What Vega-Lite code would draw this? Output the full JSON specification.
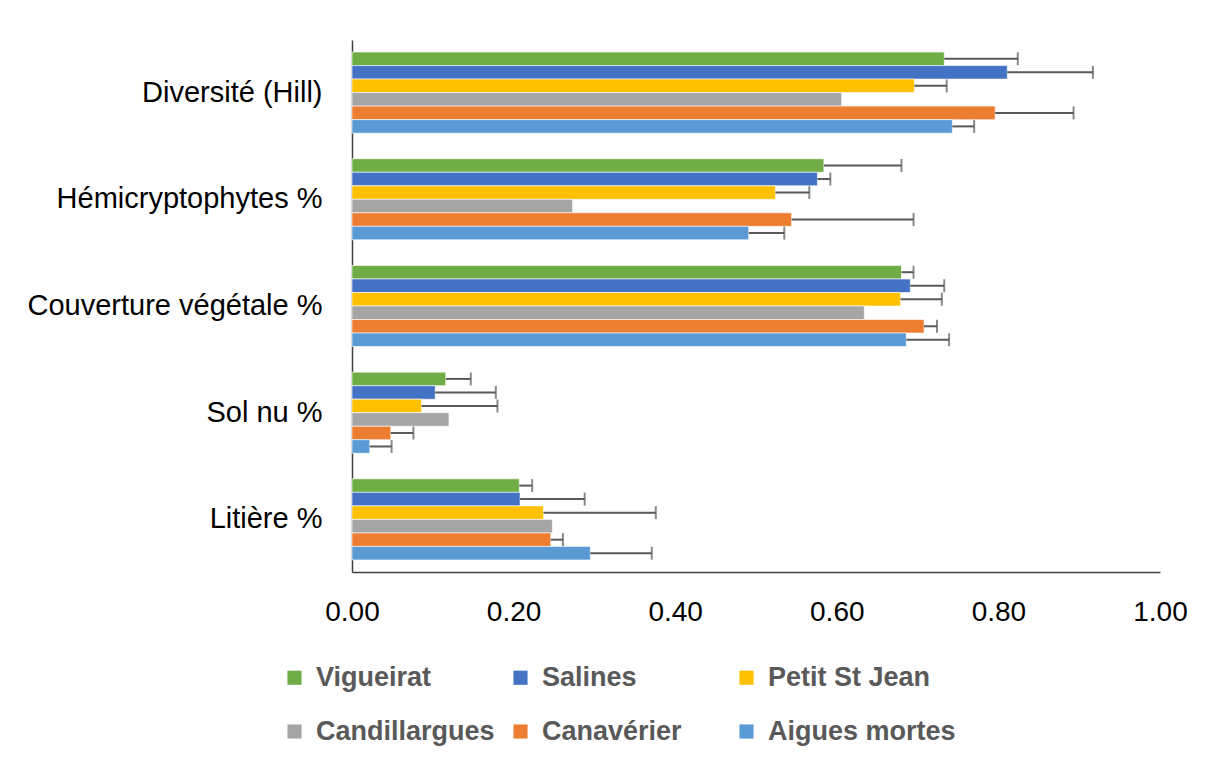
{
  "$schema": "https://vega.github.io/schema/vega-lite/v6.json",
  "width": 808,
  "height": 532,
  "autosize": {"type": "none"},
  "padding": {"left": 352, "top": 40, "right": 49, "bottom": 192},
  "background": "white",
  "config": {"view": {"stroke": null}, "font": "Liberation Sans"},
  "data": {"values": [
    {"cat": "Diversité (Hill)", "site": "Vigueirat", "value": 0.733, "upper": 0.824},
    {"cat": "Diversité (Hill)", "site": "Salines", "value": 0.811, "upper": 0.917},
    {"cat": "Diversité (Hill)", "site": "Petit St Jean", "value": 0.696, "upper": 0.736},
    {"cat": "Diversité (Hill)", "site": "Candillargues", "value": 0.606, "upper": null},
    {"cat": "Diversité (Hill)", "site": "Canavérier", "value": 0.796, "upper": 0.893},
    {"cat": "Diversité (Hill)", "site": "Aigues mortes", "value": 0.743, "upper": 0.770},
    {"cat": "Hémicryptophytes %", "site": "Vigueirat", "value": 0.584, "upper": 0.680},
    {"cat": "Hémicryptophytes %", "site": "Salines", "value": 0.576, "upper": 0.592},
    {"cat": "Hémicryptophytes %", "site": "Petit St Jean", "value": 0.524, "upper": 0.566},
    {"cat": "Hémicryptophytes %", "site": "Candillargues", "value": 0.273, "upper": null},
    {"cat": "Hémicryptophytes %", "site": "Canavérier", "value": 0.544, "upper": 0.695},
    {"cat": "Hémicryptophytes %", "site": "Aigues mortes", "value": 0.491, "upper": 0.535},
    {"cat": "Couverture végétale %", "site": "Vigueirat", "value": 0.680, "upper": 0.695},
    {"cat": "Couverture végétale %", "site": "Salines", "value": 0.691, "upper": 0.733},
    {"cat": "Couverture végétale %", "site": "Petit St Jean", "value": 0.679, "upper": 0.730},
    {"cat": "Couverture végétale %", "site": "Candillargues", "value": 0.634, "upper": null},
    {"cat": "Couverture végétale %", "site": "Canavérier", "value": 0.708, "upper": 0.724},
    {"cat": "Couverture végétale %", "site": "Aigues mortes", "value": 0.686, "upper": 0.739},
    {"cat": "Sol nu %", "site": "Vigueirat", "value": 0.116, "upper": 0.147},
    {"cat": "Sol nu %", "site": "Salines", "value": 0.103, "upper": 0.178},
    {"cat": "Sol nu %", "site": "Petit St Jean", "value": 0.086, "upper": 0.180},
    {"cat": "Sol nu %", "site": "Candillargues", "value": 0.120, "upper": null},
    {"cat": "Sol nu %", "site": "Canavérier", "value": 0.048, "upper": 0.076},
    {"cat": "Sol nu %", "site": "Aigues mortes", "value": 0.022, "upper": 0.049},
    {"cat": "Litière %", "site": "Vigueirat", "value": 0.207, "upper": 0.223},
    {"cat": "Litière %", "site": "Salines", "value": 0.208, "upper": 0.288},
    {"cat": "Litière %", "site": "Petit St Jean", "value": 0.237, "upper": 0.376},
    {"cat": "Litière %", "site": "Candillargues", "value": 0.248, "upper": null},
    {"cat": "Litière %", "site": "Canavérier", "value": 0.246, "upper": 0.261},
    {"cat": "Litière %", "site": "Aigues mortes", "value": 0.295, "upper": 0.371}
  ]},
  "encoding": {
    "y": {
      "field": "cat", "type": "nominal",
      "sort": ["Diversité (Hill)", "Hémicryptophytes %", "Couverture végétale %", "Sol nu %", "Litière %"],
      "scale": {"paddingInner": 0.24, "paddingOuter": 0.113},
      "axis": {"title": null, "ticks": false, "labelFontSize": 29, "labelColor": "#000000", "labelPadding": 30, "labelLimit": 400, "domainColor": "#404040", "domainWidth": 1.5, "labelFont": "Liberation Sans"}
    },
    "yOffset": {
      "field": "site", "type": "nominal",
      "sort": ["Vigueirat", "Salines", "Petit St Jean", "Candillargues", "Canavérier", "Aigues mortes"],
      "scale": {"paddingInner": 0, "paddingOuter": 0}
    }
  },
  "layer": [
    {
      "mark": {"type": "bar", "stroke": "white", "strokeWidth": 0.6},
      "encoding": {
        "x": {
          "field": "value", "type": "quantitative",
          "scale": {"domain": [0, 1], "nice": false},
          "axis": {"title": null, "values": [0, 0.2, 0.4, 0.6, 0.8, 1.0], "format": ".2f", "grid": false, "ticks": false, "labelFontSize": 28, "labelColor": "#000000", "labelPadding": 26, "domainColor": "#404040", "domainWidth": 1.5, "labelFlush": false}
        },
        "color": {
          "field": "site", "type": "nominal",
          "scale": {
            "domain": ["Vigueirat", "Salines", "Petit St Jean", "Candillargues", "Canavérier", "Aigues mortes"],
            "range": ["#70AD47", "#4472C4", "#FFC000", "#A5A5A5", "#ED7D31", "#5B9BD5"]
          },
          "legend": {
            "title": null, "orient": "none", "legendX": -71, "legendY": 624,
            "columns": 3, "direction": "horizontal",
            "symbolType": "square", "symbolSize": 200, "symbolStrokeWidth": 0,
            "labelFontSize": 27, "labelFontWeight": "bold", "labelColor": "#595959",
            "labelFont": "Liberation Sans", "labelOffset": 8,
            "columnPadding": 3, "rowPadding": 26, "gridAlign": "all", "labelLimit": 400
          }
        }
      }
    },
    {
      "transform": [{"filter": "datum.upper != null"}],
      "mark": {"type": "rule", "color": "#595959", "strokeWidth": 2},
      "encoding": {
        "x": {"field": "value", "type": "quantitative"},
        "x2": {"field": "upper"}
      }
    },
    {
      "transform": [{"filter": "datum.upper != null"}],
      "mark": {"type": "tick", "color": "#595959", "thickness": 2, "size": 13, "orient": "vertical"},
      "encoding": {
        "x": {"field": "upper", "type": "quantitative"}
      }
    }
  ]
}
